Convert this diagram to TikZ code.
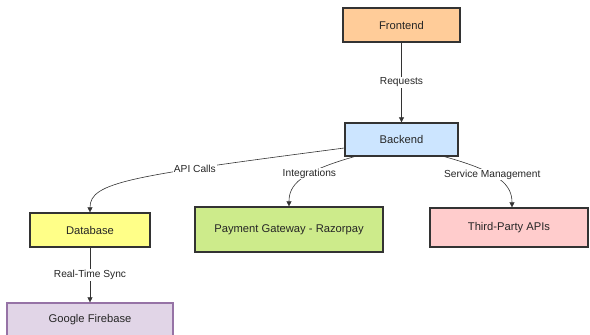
\documentclass[tikz,border=0pt]{standalone}
\usepackage{fontspec}
\setmainfont{Liberation Sans}
\usetikzlibrary{arrows.meta, positioning}
\definecolor{frontorange}{RGB}{255,204,153}
\definecolor{backblue}{RGB}{204,229,255}
\definecolor{dbyellow}{RGB}{255,255,136}
\definecolor{paygreen}{RGB}{205,235,139}
\definecolor{apipink}{RGB}{255,204,204}
\definecolor{firelilac}{RGB}{225,213,231}
\definecolor{firepurple}{RGB}{150,115,166}
\definecolor{edgegray}{RGB}{51,51,51}
\tikzset{
    block/.style={rectangle, draw=edgegray, line width=1.3pt, inner sep=0pt, font=\fontsize{11.2}{13}\selectfont, text=black!85},
    link/.style={-{Triangle[length=5pt, width=5pt]}, draw=edgegray, line width=0.6pt},
    tag/.style={fill=white, inner sep=1pt, font=\fontsize{10.2}{12}\selectfont, text=black!85},
}
\begin{document}
\begin{tikzpicture}[x=1pt, y=-1pt]
    \useasboundingbox (0,0) rectangle (590,335);
    \node[block, fill=frontorange, minimum width=117pt, minimum height=34pt] (front) at (401.5,25) {Frontend};
    \node[block, fill=backblue, minimum width=113pt, minimum height=33pt] (back) at (401.5,139.5) {Backend};
    \node[block, fill=dbyellow, minimum width=120pt, minimum height=34pt] (db) at (90,230) {Database};
    \node[block, fill=paygreen, minimum width=188pt, minimum height=45pt] (pay) at (289,229.5) {Payment Gateway - Razorpay};
    \node[block, fill=apipink, minimum width=158pt, minimum height=39pt] (api) at (509,227.5) {Third-Party APIs};
    \node[block, draw=firepurple, fill=firelilac, minimum width=166pt, minimum height=34pt] (fire) at (90,320) {Google Firebase};
    % connectors
    \draw[link] (front) -- node[tag] {Requests} (back);
    \draw[link] (back.west |- 0,148) .. controls (130,176) and (90,182) .. node[tag, pos=0.3] {API Calls} (db.north);
    \draw[link] (back.south west) ++(10,0) .. controls (300,172) and (289,185) .. node[tag, pos=0.38] {Integrations} (pay.north);
    \draw[link] (back.south) ++(43,0) .. controls (500,172) and (512,185) .. node[tag, pos=0.4] {Service Management} (api.north -| 512,0);
    \draw[link] (db) -- node[tag] {Real-Time Sync} (fire);
\end{tikzpicture}
\end{document}
